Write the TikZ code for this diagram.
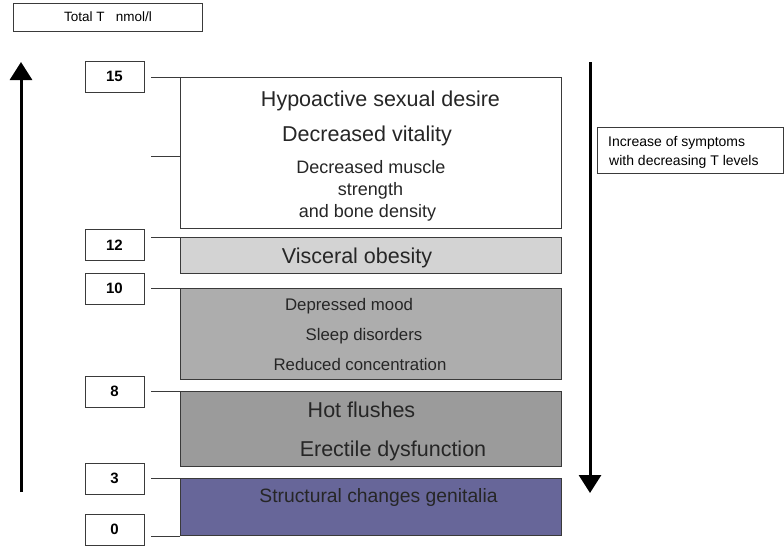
\documentclass[tikz,border=0pt]{standalone}
\usepackage{fontspec}
\setmainfont{Liberation Sans}
\usetikzlibrary{arrows.meta}
\definecolor{lvA}{HTML}{D3D3D3}
\definecolor{lvB}{HTML}{ADADAD}
\definecolor{lvC}{HTML}{9B9B9B}
\definecolor{lvD}{HTML}{676699}
\definecolor{edge}{HTML}{3A3A3A}
\tikzset{
  band/.style={draw=edge, line width=0.8pt, anchor=north west, inner sep=0pt, outer sep=0pt},
  valbox/.style={draw=edge, line width=0.8pt, fill=white, minimum width=59pt, minimum height=31pt, inner sep=0pt, font=\fontsize{15}{15}\selectfont\bfseries},
  tick/.style={draw=edge, line width=0.8pt},
  bigarrow/.style={line width=3pt, -{Triangle[width=22pt,length=18pt]}},
  txt/.style={anchor=base, inner sep=0pt, text=black!85},
  big/.style={txt, font=\fontsize{21.5}{21.5}\selectfont},
  mid/.style={txt, font=\fontsize{18}{18}\selectfont},
  small/.style={txt, font=\fontsize{16.8}{16.8}\selectfont},
}
\begin{document}
\begin{tikzpicture}[x=1pt,y=-1pt]
\useasboundingbox (0,0) rectangle (784,546);
% header box
\node[draw=edge, line width=0.8pt, minimum width=189pt, minimum height=28pt, inner sep=0pt, anchor=north west] (hdr) at (13,3) {};
\node[anchor=base, inner sep=0pt, font=\fontsize{13.5}{13.5}\selectfont] (hdrt) at (108,21) {Total T\ \ \ nmol/l};
% bands
\node[band, fill=white, minimum width=381pt, minimum height=151pt] (b1) at (180,77) {};
\node[band, fill=lvA, minimum width=381pt, minimum height=36pt] (b2) at (180,237) {};
\node[band, fill=lvB, minimum width=381pt, minimum height=91pt] (b3) at (180,288) {};
\node[band, fill=lvC, minimum width=381pt, minimum height=75pt] (b4) at (180,391) {};
\node[band, fill=lvD, minimum width=381pt, minimum height=57pt] (b5) at (180,478) {};
% value boxes
\node[valbox] (v15) at (114.5,76.5) {15};
\node[valbox] (v12) at (114.5,245) {12};
\node[valbox] (v10) at (114.5,288.5) {10};
\node[valbox] (v8) at (114.5,391.5) {8};
\node[valbox] (v3) at (114.5,478.5) {3};
\node[valbox] (v0) at (114.5,529.5) {0};
% tick coordinates
\coordinate (t15) at (151,77);
\coordinate (tm) at (151,156);
\coordinate (t12) at (151,237);
\coordinate (t10) at (151,288);
\coordinate (t8) at (151,391);
\coordinate (t3) at (151,478);
\coordinate (t0) at (151,536);
\draw[tick] (t15) -- (b1.north west);
\draw[tick] (tm) -- (tm -| b1.west);
\draw[tick] (t12) -- (b2.north west);
\draw[tick] (t10) -- (b3.north west);
\draw[tick] (t8) -- (b4.north west);
\draw[tick] (t3) -- (b5.north west);
\draw[tick] (t0) -- (t0 -| b5.west);
% texts
\node[big] (h1) at (380.5,106.5) {Hypoactive sexual desire};
\node[big] (h2) at (367,141.5) {Decreased vitality};
\node[mid] (h3) at (371,173) {Decreased muscle};
\node[mid] (h4) at (370.5,195) {strength};
\node[mid] (h5) at (367.5,217) {and bone density};
\node[big] (vo) at (357,263) {Visceral obesity};
\node[small] (dm) at (349,310) {Depressed mood};
\node[small] (sd) at (364,340) {Sleep disorders};
\node[small] (rc) at (360,370) {Reduced concentration};
\node[big] (hf) at (361.5,417) {Hot flushes};
\node[big] (ed) at (393,456) {Erectile dysfunction};
\node[txt, font=\fontsize{19.3}{19.3}\selectfont] (sc) at (378.5,502) {Structural changes genitalia};
% arrows
\coordinate (upS) at (21,492);
\coordinate (upE) at (21,62);
\draw[bigarrow] (upS) -- (upE);
\coordinate (dnS) at (590,62);
\coordinate (dnE) at (590,493);
\draw[bigarrow] (dnS) -- (dnE);
% note box
\node[draw=edge, line width=0.8pt, minimum width=186pt, minimum height=46pt, inner sep=0pt, anchor=north west] (note) at (597,127) {};
\node[anchor=base west, inner sep=0pt, font=\fontsize{14}{14}\selectfont] (n1) at (608,146) {Increase of symptoms};
\node[anchor=base west, inner sep=0pt, font=\fontsize{14}{14}\selectfont] (n2) at (609,165) {with decreasing T levels};
\end{tikzpicture}
\end{document}
